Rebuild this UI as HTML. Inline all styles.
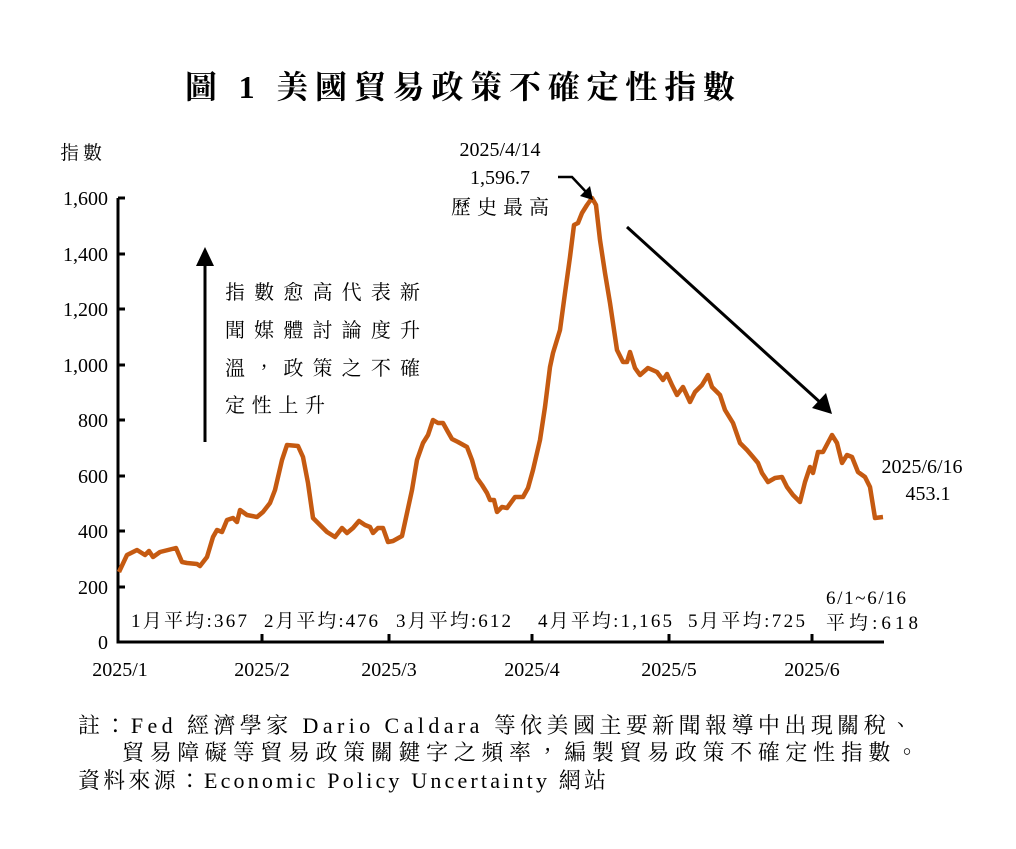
<!DOCTYPE html>
<html><head><meta charset="utf-8"><style>
body{margin:0;background:#fff}
svg text{font-family:"Liberation Serif","Noto Serif CJK TC","Noto Serif CJK SC",serif;fill:#000}
</style></head><body>
<svg width="1016" height="844" viewBox="0 0 1016 844" xmlns="http://www.w3.org/2000/svg">
<text x="185" y="98" font-size="32" font-weight="bold" textLength="550" lengthAdjust="spacing">圖 1  美國貿易政策不確定性指數</text>
<text x="60" y="159" font-size="19" textLength="42" lengthAdjust="spacing">指數</text>
<g font-size="20" text-anchor="end">
<text x="108" y="205">1,600</text><text x="108" y="261">1,400</text><text x="108" y="316">1,200</text>
<text x="108" y="372">1,000</text><text x="108" y="427">800</text><text x="108" y="483">600</text>
<text x="108" y="538">400</text><text x="108" y="594">200</text><text x="108" y="649">0</text>
</g>
<g stroke="#000" stroke-width="3" fill="none">
<path d="M118,198 V642 H884"/>
<path d="M118,198h7M118,254h7M118,309h7M118,365h7M118,420h7M118,476h7M118,531h7M118,587h7"/>
<path d="M262,642v-8M389,642v-8M532,642v-8M669,642v-8M812,642v-8"/>
</g>
<g font-size="20" text-anchor="middle">
<text x="120" y="676">2025/1</text><text x="262" y="676">2025/2</text><text x="389" y="676">2025/3</text>
<text x="532" y="676">2025/4</text><text x="669" y="676">2025/5</text><text x="812" y="676">2025/6</text>
</g>
<g font-size="19">
<text x="131" y="627" textLength="116" lengthAdjust="spacing">1月平均:367</text>
<text x="264" y="627" textLength="114" lengthAdjust="spacing">2月平均:476</text>
<text x="396" y="627" textLength="115" lengthAdjust="spacing">3月平均:612</text>
<text x="538" y="627" textLength="134" lengthAdjust="spacing">4月平均:1,165</text>
<text x="688" y="627" textLength="117" lengthAdjust="spacing">5月平均:725</text>
<text x="826" y="604" textLength="80" lengthAdjust="spacing">6/1~6/16</text>
<text x="826" y="629" textLength="92" lengthAdjust="spacing">平均:618</text>
</g>
<polyline fill="none" stroke="#C55A11" stroke-width="4.5" stroke-linejoin="round" points="119,572 127,555 137,550 145,555 149,551 153,557 160,552 168,550 176,548 182,562 187,563 197,564 200,566 207,557 213,537 217,530 222,532 227,520 233,518 237,522 240,510 247,515 257,517 263,512 270,503 275,490 282,460 287,445 298,446 303,457 308,483 313,518 322,527 327,532 335,537 342,528 347,533 353,528 359,521 365,525 370,527 373,533 378,528 383,528 388,542 393,541 402,536 407,513 412,490 417,460 423,443 428,435 433,420 438,423 443,423 448,432 452,439 458,442 467,447 472,460 477,478 482,485 487,493 490,500 494,500 497,512 502,507 507,508 515,497 523,497 528,488 533,470 540,440 545,407 550,367 553,353 560,330 565,293 570,257 574,225 578,223 582,213 587,205 592,198 596,205 600,240 605,273 610,303 617,350 623,362 627,362 630,352 635,368 640,375 648,368 657,372 663,380 667,374 672,385 677,395 683,387 690,402 695,392 702,385 708,375 712,387 720,395 725,410 733,423 740,443 747,450 753,457 758,463 762,473 768,482 775,478 782,477 787,487 793,495 800,502 805,482 810,467 813,473 818,452 823,452 832,435 837,443 842,463 847,455 852,457 858,472 865,477 870,487 875,518 883,517"/>
<g stroke="#000" stroke-width="3" fill="#000">
<line x1="205" y1="442" x2="205" y2="262"/>
<polygon points="196,266 214,266 205,247" stroke="none"/>
<line x1="627" y1="227" x2="822" y2="404"/>
<polygon points="812,408 832,414 826,393" stroke="none"/>
<path d="M558,177 H572 L588,194" fill="none" stroke-width="2.5"/>
<polygon points="580,196 593,200 590,186" stroke="none"/>
</g>
<g font-size="20" text-anchor="middle">
<text x="500" y="156">2025/4/14</text><text x="500" y="184">1,596.7</text>
<text x="500" y="214" textLength="98" lengthAdjust="spacing">歷史最高</text>
</g>
<g font-size="20">
<text x="225" y="299" textLength="195" lengthAdjust="spacing">指數愈高代表新</text>
<text x="225" y="337" textLength="195" lengthAdjust="spacing">聞媒體討論度升</text>
<text x="225" y="375" textLength="195" lengthAdjust="spacing">溫，政策之不確</text>
<text x="225" y="412" textLength="100" lengthAdjust="spacing">定性上升</text>
</g>
<text x="922" y="473" font-size="20" text-anchor="middle">2025/6/16</text>
<text x="928" y="500" font-size="20" text-anchor="middle">453.1</text>
<g font-size="22">
<text x="78" y="733" textLength="834" lengthAdjust="spacing">註：Fed 經濟學家 Dario Caldara 等依美國主要新聞報導中出現關稅、</text>
<text x="122" y="760" textLength="796" lengthAdjust="spacing">貿易障礙等貿易政策關鍵字之頻率，編製貿易政策不確定性指數。</text>
<text x="78" y="788" textLength="528" lengthAdjust="spacing">資料來源：Economic Policy Uncertainty 網站</text>
</g>
</svg>
</body></html>
